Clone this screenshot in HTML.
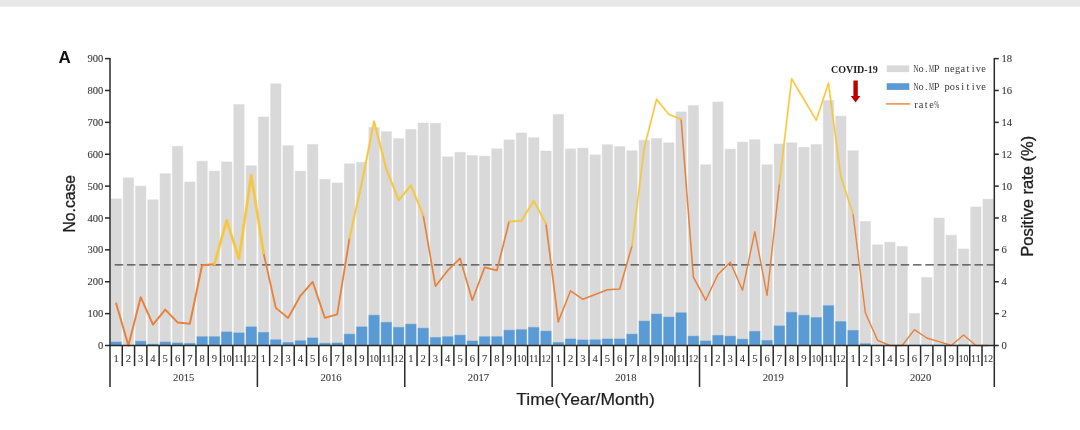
<!DOCTYPE html>
<html><head><meta charset="utf-8"><title>Figure A</title>
<style>
html,body{margin:0;padding:0;background:#fff;}
body{width:1080px;height:430px;position:relative;overflow:hidden;font-family:"Liberation Sans",sans-serif;}
.topbar{position:absolute;left:0;top:0;width:1080px;height:7.5px;background:linear-gradient(#e8e8e8 0,#e8e8e8 6px,#fff 7.5px);}
.ser{font-family:"Liberation Serif",serif;}
.san{font-family:"Liberation Sans",sans-serif;}
.mon{font-family:"Liberation Mono",monospace;}
</style></head><body>
<div class="topbar"></div>
<svg width="1080" height="430" viewBox="0 0 1080 430" style="position:absolute;left:0;top:0">
<defs><filter id="gs" x="0" y="0" width="1080" height="430" filterUnits="userSpaceOnUse"><feOffset dx="0" dy="0"/></filter></defs>
<g>
<g fill="#d9d9d9" stroke="#d9d9d9" stroke-opacity="0.45" stroke-width="1">
<rect x="110.94" y="198.86" width="10.4" height="146.64"/>
<rect x="123.22" y="177.82" width="10.4" height="167.68"/>
<rect x="135.50" y="186.11" width="10.4" height="159.39"/>
<rect x="147.79" y="199.82" width="10.4" height="145.68"/>
<rect x="160.07" y="173.68" width="10.4" height="171.82"/>
<rect x="172.35" y="146.26" width="10.4" height="199.24"/>
<rect x="184.63" y="181.97" width="10.4" height="163.53"/>
<rect x="196.91" y="161.25" width="10.4" height="184.25"/>
<rect x="209.20" y="171.13" width="10.4" height="174.37"/>
<rect x="221.48" y="161.88" width="10.4" height="183.62"/>
<rect x="233.76" y="104.50" width="10.4" height="241.00"/>
<rect x="246.04" y="165.71" width="10.4" height="179.79"/>
<rect x="258.32" y="116.94" width="10.4" height="228.56"/>
<rect x="270.61" y="83.78" width="10.4" height="261.72"/>
<rect x="282.89" y="145.63" width="10.4" height="199.87"/>
<rect x="295.17" y="171.13" width="10.4" height="174.37"/>
<rect x="307.45" y="144.35" width="10.4" height="201.15"/>
<rect x="319.73" y="179.42" width="10.4" height="166.08"/>
<rect x="332.02" y="182.92" width="10.4" height="162.58"/>
<rect x="344.30" y="163.80" width="10.4" height="181.70"/>
<rect x="356.58" y="162.20" width="10.4" height="183.30"/>
<rect x="368.86" y="127.46" width="10.4" height="218.04"/>
<rect x="381.14" y="131.60" width="10.4" height="213.90"/>
<rect x="393.43" y="138.61" width="10.4" height="206.89"/>
<rect x="405.71" y="129.37" width="10.4" height="216.13"/>
<rect x="417.99" y="122.99" width="10.4" height="222.51"/>
<rect x="430.27" y="123.31" width="10.4" height="222.19"/>
<rect x="442.55" y="156.78" width="10.4" height="188.72"/>
<rect x="454.84" y="152.32" width="10.4" height="193.18"/>
<rect x="467.12" y="155.51" width="10.4" height="189.99"/>
<rect x="479.40" y="156.15" width="10.4" height="189.35"/>
<rect x="491.68" y="148.81" width="10.4" height="196.69"/>
<rect x="503.96" y="139.89" width="10.4" height="205.61"/>
<rect x="516.25" y="132.88" width="10.4" height="212.62"/>
<rect x="528.53" y="137.66" width="10.4" height="207.84"/>
<rect x="540.81" y="151.05" width="10.4" height="194.45"/>
<rect x="553.09" y="114.39" width="10.4" height="231.11"/>
<rect x="565.37" y="148.81" width="10.4" height="196.69"/>
<rect x="577.65" y="148.18" width="10.4" height="197.32"/>
<rect x="589.94" y="154.87" width="10.4" height="190.63"/>
<rect x="602.22" y="144.67" width="10.4" height="200.83"/>
<rect x="614.50" y="146.58" width="10.4" height="198.92"/>
<rect x="626.78" y="150.73" width="10.4" height="194.77"/>
<rect x="639.06" y="140.21" width="10.4" height="205.29"/>
<rect x="651.35" y="138.45" width="10.4" height="207.05"/>
<rect x="663.63" y="142.76" width="10.4" height="202.74"/>
<rect x="675.91" y="111.84" width="10.4" height="233.66"/>
<rect x="688.19" y="105.46" width="10.4" height="240.04"/>
<rect x="700.47" y="164.75" width="10.4" height="180.75"/>
<rect x="712.76" y="101.95" width="10.4" height="243.55"/>
<rect x="725.04" y="149.13" width="10.4" height="196.37"/>
<rect x="737.32" y="142.12" width="10.4" height="203.38"/>
<rect x="749.60" y="139.73" width="10.4" height="205.77"/>
<rect x="761.88" y="164.75" width="10.4" height="180.75"/>
<rect x="774.17" y="144.03" width="10.4" height="201.47"/>
<rect x="786.45" y="142.76" width="10.4" height="202.74"/>
<rect x="798.73" y="147.22" width="10.4" height="198.28"/>
<rect x="811.01" y="144.51" width="10.4" height="200.99"/>
<rect x="823.29" y="100.49" width="10.4" height="245.01"/>
<rect x="835.58" y="116.11" width="10.4" height="229.39"/>
<rect x="847.86" y="150.73" width="10.4" height="194.77"/>
<rect x="860.14" y="221.50" width="10.4" height="124.00"/>
<rect x="872.42" y="244.77" width="10.4" height="100.73"/>
<rect x="884.70" y="242.22" width="10.4" height="103.28"/>
<rect x="896.99" y="246.36" width="10.4" height="99.14"/>
<rect x="909.27" y="313.46" width="10.4" height="32.04"/>
<rect x="921.55" y="277.44" width="10.4" height="68.06"/>
<rect x="933.83" y="217.99" width="10.4" height="127.51"/>
<rect x="946.11" y="235.20" width="10.4" height="110.30"/>
<rect x="958.40" y="248.91" width="10.4" height="96.59"/>
<rect x="970.68" y="206.99" width="10.4" height="138.51"/>
<rect x="982.96" y="199.18" width="10.4" height="146.32"/>
</g>
<g fill="#5b9bd5" stroke="#5b9bd5" stroke-opacity="0.45" stroke-width="1">
<rect x="110.94" y="341.99" width="10.4" height="3.51"/>
<rect x="135.50" y="341.23" width="10.4" height="4.27"/>
<rect x="147.79" y="344.22" width="10.4" height="1.28"/>
<rect x="160.07" y="341.99" width="10.4" height="3.51"/>
<rect x="172.35" y="342.95" width="10.4" height="2.55"/>
<rect x="184.63" y="343.43" width="10.4" height="2.07"/>
<rect x="196.91" y="336.70" width="10.4" height="8.80"/>
<rect x="209.20" y="336.70" width="10.4" height="8.80"/>
<rect x="221.48" y="331.92" width="10.4" height="13.58"/>
<rect x="233.76" y="332.91" width="10.4" height="12.59"/>
<rect x="246.04" y="326.88" width="10.4" height="18.62"/>
<rect x="258.32" y="332.43" width="10.4" height="13.07"/>
<rect x="270.61" y="339.76" width="10.4" height="5.74"/>
<rect x="282.89" y="342.47" width="10.4" height="3.03"/>
<rect x="295.17" y="340.72" width="10.4" height="4.78"/>
<rect x="307.45" y="337.94" width="10.4" height="7.56"/>
<rect x="319.73" y="343.27" width="10.4" height="2.23"/>
<rect x="332.02" y="342.95" width="10.4" height="2.55"/>
<rect x="344.30" y="334.18" width="10.4" height="11.32"/>
<rect x="356.58" y="326.88" width="10.4" height="18.62"/>
<rect x="368.86" y="315.22" width="10.4" height="30.28"/>
<rect x="381.14" y="322.36" width="10.4" height="23.14"/>
<rect x="393.43" y="327.39" width="10.4" height="18.11"/>
<rect x="405.71" y="324.14" width="10.4" height="21.36"/>
<rect x="417.99" y="328.16" width="10.4" height="17.34"/>
<rect x="430.27" y="337.47" width="10.4" height="8.03"/>
<rect x="442.55" y="336.70" width="10.4" height="8.80"/>
<rect x="454.84" y="335.20" width="10.4" height="10.30"/>
<rect x="467.12" y="340.97" width="10.4" height="4.53"/>
<rect x="479.40" y="336.70" width="10.4" height="8.80"/>
<rect x="491.68" y="336.70" width="10.4" height="8.80"/>
<rect x="503.96" y="330.20" width="10.4" height="15.30"/>
<rect x="516.25" y="329.66" width="10.4" height="15.84"/>
<rect x="528.53" y="327.39" width="10.4" height="18.11"/>
<rect x="540.81" y="331.15" width="10.4" height="14.35"/>
<rect x="553.09" y="342.47" width="10.4" height="3.03"/>
<rect x="565.37" y="338.97" width="10.4" height="6.53"/>
<rect x="577.65" y="339.95" width="10.4" height="5.55"/>
<rect x="589.94" y="339.76" width="10.4" height="5.74"/>
<rect x="602.22" y="338.97" width="10.4" height="6.53"/>
<rect x="614.50" y="338.97" width="10.4" height="6.53"/>
<rect x="626.78" y="334.18" width="10.4" height="11.32"/>
<rect x="639.06" y="321.11" width="10.4" height="24.39"/>
<rect x="651.35" y="314.07" width="10.4" height="31.43"/>
<rect x="663.63" y="317.07" width="10.4" height="28.43"/>
<rect x="675.91" y="312.79" width="10.4" height="32.71"/>
<rect x="688.19" y="336.19" width="10.4" height="9.31"/>
<rect x="700.47" y="340.97" width="10.4" height="4.53"/>
<rect x="712.76" y="335.43" width="10.4" height="10.07"/>
<rect x="725.04" y="336.19" width="10.4" height="9.31"/>
<rect x="737.32" y="339.22" width="10.4" height="6.28"/>
<rect x="749.60" y="331.41" width="10.4" height="14.09"/>
<rect x="761.88" y="340.46" width="10.4" height="5.04"/>
<rect x="774.17" y="325.90" width="10.4" height="19.60"/>
<rect x="786.45" y="312.35" width="10.4" height="33.15"/>
<rect x="798.73" y="315.31" width="10.4" height="30.19"/>
<rect x="811.01" y="317.58" width="10.4" height="27.92"/>
<rect x="823.29" y="305.65" width="10.4" height="39.85"/>
<rect x="835.58" y="321.59" width="10.4" height="23.91"/>
<rect x="847.86" y="330.42" width="10.4" height="15.08"/>
<rect x="860.14" y="343.75" width="10.4" height="1.75"/>
<rect x="872.42" y="345.18" width="10.4" height="0.32"/>
<rect x="909.27" y="345.18" width="10.4" height="0.32"/>
<rect x="921.55" y="345.18" width="10.4" height="0.32"/>
<rect x="933.83" y="345.18" width="10.4" height="0.32"/>
<rect x="958.40" y="344.86" width="10.4" height="0.64"/>
</g>
</g>
<line x1="114.7" y1="264.9" x2="994.3" y2="264.9" stroke="#454545" stroke-width="1.4" stroke-dasharray="8.5 3.782"/>
<g fill="none" stroke="#e8823a" stroke-linejoin="round" stroke-linecap="round">
<polyline points="116.14,303.58 128.42,345.50 140.70,297.21 152.99,324.62 165.27,309.64 177.55,322.39 189.83,323.82 202.11,265.17 214.40,264.21" stroke-width="2.0"/>
<polyline points="263.52,253.05 275.81,307.88 288.09,317.93 300.37,295.77 312.65,281.90 324.93,317.93 337.22,314.42 349.50,238.39" stroke-width="1.85"/>
<polyline points="423.19,215.12 435.47,286.21 447.75,270.43 460.04,258.31 472.32,300.23 484.60,267.40 496.88,270.43 509.16,221.50" stroke-width="1.7"/>
<polyline points="546.01,223.89 558.29,321.59" stroke-width="1.7"/>
<polyline points="558.29,321.59 570.57,290.83 582.85,299.28 595.14,294.50 607.42,289.71 619.70,288.92 631.98,245.88" stroke-width="1.55"/>
<polyline points="681.11,119.17 693.39,277.12 705.67,300.23" stroke-width="1.55"/>
<polyline points="705.67,300.23 717.96,274.41 730.24,262.14 742.52,290.19 754.80,231.70 767.08,295.29 779.37,183.88" stroke-width="1.45"/>
<polyline points="853.06,214.00 865.34,312.83 877.62,340.40 889.90,345.50 902.19,345.50 914.47,329.56 926.75,338.01 939.03,341.67 951.31,345.50 963.60,334.98 975.88,345.50 988.16,345.50" stroke-width="1.4"/>
</g>
<polyline points="214.40,264.21 226.68,220.38 238.96,258.79 251.24,175.27 263.52,253.05" fill="none" stroke="#f7c63a" stroke-opacity="0.35" stroke-width="3.3" stroke-linejoin="round" stroke-linecap="round"/>
<polyline points="214.40,264.21 226.68,220.38 238.96,258.79 251.24,175.27 263.52,253.05" fill="none" stroke="#f7c63a" stroke-width="2.25" stroke-linejoin="round" stroke-linecap="round"/>
<polyline points="349.50,238.39 361.78,182.92 374.06,121.40 386.34,169.06 398.63,200.14 410.91,185.47 423.19,215.12" fill="none" stroke="#f7c63a" stroke-opacity="0.35" stroke-width="2.7" stroke-linejoin="round" stroke-linecap="round"/>
<polyline points="349.50,238.39 361.78,182.92 374.06,121.40 386.34,169.06 398.63,200.14 410.91,185.47 423.19,215.12" fill="none" stroke="#f7c63a" stroke-width="1.65" stroke-linejoin="round" stroke-linecap="round"/>
<polyline points="509.16,221.50 521.45,220.70 533.73,200.77 546.01,223.89" fill="none" stroke="#f7c63a" stroke-opacity="0.35" stroke-width="2.5" stroke-linejoin="round" stroke-linecap="round"/>
<polyline points="509.16,221.50 521.45,220.70 533.73,200.77 546.01,223.89" fill="none" stroke="#f7c63a" stroke-width="1.45" stroke-linejoin="round" stroke-linecap="round"/>
<polyline points="631.98,245.88 644.26,147.86 656.55,99.24 668.83,114.39 681.11,119.17" fill="none" stroke="#f7c63a" stroke-opacity="0.35" stroke-width="2.3" stroke-linejoin="round" stroke-linecap="round"/>
<polyline points="631.98,245.88 644.26,147.86 656.55,99.24 668.83,114.39 681.11,119.17" fill="none" stroke="#f7c63a" stroke-width="1.25" stroke-linejoin="round" stroke-linecap="round"/>
<polyline points="779.37,183.88 791.65,78.84 803.93,99.40 816.21,120.28 828.49,83.15 840.78,176.55 853.06,214.00" fill="none" stroke="#f7c63a" stroke-opacity="0.35" stroke-width="2.3" stroke-linejoin="round" stroke-linecap="round"/>
<polyline points="779.37,183.88 791.65,78.84 803.93,99.40 816.21,120.28 828.49,83.15 840.78,176.55 853.06,214.00" fill="none" stroke="#f7c63a" stroke-width="1.25" stroke-linejoin="round" stroke-linecap="round"/>
<g stroke="#2a2a2a" stroke-width="1.5" fill="none">
<line x1="110.0" y1="58.0" x2="110.0" y2="387"/>
<line x1="994.3" y1="58.0" x2="994.3" y2="387"/>
<line x1="109.4" y1="345.5" x2="994.9" y2="345.5"/>
<line x1="105.0" y1="345.50" x2="110.0" y2="345.50"/>
<line x1="994.3" y1="345.50" x2="998.8" y2="345.50"/>
<line x1="105.0" y1="313.62" x2="110.0" y2="313.62"/>
<line x1="994.3" y1="313.62" x2="998.8" y2="313.62"/>
<line x1="105.0" y1="281.74" x2="110.0" y2="281.74"/>
<line x1="994.3" y1="281.74" x2="998.8" y2="281.74"/>
<line x1="105.0" y1="249.87" x2="110.0" y2="249.87"/>
<line x1="994.3" y1="249.87" x2="998.8" y2="249.87"/>
<line x1="105.0" y1="217.99" x2="110.0" y2="217.99"/>
<line x1="994.3" y1="217.99" x2="998.8" y2="217.99"/>
<line x1="105.0" y1="186.11" x2="110.0" y2="186.11"/>
<line x1="994.3" y1="186.11" x2="998.8" y2="186.11"/>
<line x1="105.0" y1="154.23" x2="110.0" y2="154.23"/>
<line x1="994.3" y1="154.23" x2="998.8" y2="154.23"/>
<line x1="105.0" y1="122.36" x2="110.0" y2="122.36"/>
<line x1="994.3" y1="122.36" x2="998.8" y2="122.36"/>
<line x1="105.0" y1="90.48" x2="110.0" y2="90.48"/>
<line x1="994.3" y1="90.48" x2="998.8" y2="90.48"/>
<line x1="105.0" y1="58.60" x2="110.0" y2="58.60"/>
<line x1="994.3" y1="58.60" x2="998.8" y2="58.60"/>
<line x1="122.28" y1="345.5" x2="122.28" y2="366"/>
<line x1="134.56" y1="345.5" x2="134.56" y2="366"/>
<line x1="146.85" y1="345.5" x2="146.85" y2="366"/>
<line x1="159.13" y1="345.5" x2="159.13" y2="366"/>
<line x1="171.41" y1="345.5" x2="171.41" y2="366"/>
<line x1="183.69" y1="345.5" x2="183.69" y2="366"/>
<line x1="195.97" y1="345.5" x2="195.97" y2="366"/>
<line x1="208.26" y1="345.5" x2="208.26" y2="366"/>
<line x1="220.54" y1="345.5" x2="220.54" y2="366"/>
<line x1="232.82" y1="345.5" x2="232.82" y2="366"/>
<line x1="245.10" y1="345.5" x2="245.10" y2="366"/>
<line x1="257.38" y1="345.5" x2="257.38" y2="387"/>
<line x1="269.67" y1="345.5" x2="269.67" y2="366"/>
<line x1="281.95" y1="345.5" x2="281.95" y2="366"/>
<line x1="294.23" y1="345.5" x2="294.23" y2="366"/>
<line x1="306.51" y1="345.5" x2="306.51" y2="366"/>
<line x1="318.79" y1="345.5" x2="318.79" y2="366"/>
<line x1="331.07" y1="345.5" x2="331.07" y2="366"/>
<line x1="343.36" y1="345.5" x2="343.36" y2="366"/>
<line x1="355.64" y1="345.5" x2="355.64" y2="366"/>
<line x1="367.92" y1="345.5" x2="367.92" y2="366"/>
<line x1="380.20" y1="345.5" x2="380.20" y2="366"/>
<line x1="392.48" y1="345.5" x2="392.48" y2="366"/>
<line x1="404.77" y1="345.5" x2="404.77" y2="387"/>
<line x1="417.05" y1="345.5" x2="417.05" y2="366"/>
<line x1="429.33" y1="345.5" x2="429.33" y2="366"/>
<line x1="441.61" y1="345.5" x2="441.61" y2="366"/>
<line x1="453.89" y1="345.5" x2="453.89" y2="366"/>
<line x1="466.18" y1="345.5" x2="466.18" y2="366"/>
<line x1="478.46" y1="345.5" x2="478.46" y2="366"/>
<line x1="490.74" y1="345.5" x2="490.74" y2="366"/>
<line x1="503.02" y1="345.5" x2="503.02" y2="366"/>
<line x1="515.30" y1="345.5" x2="515.30" y2="366"/>
<line x1="527.59" y1="345.5" x2="527.59" y2="366"/>
<line x1="539.87" y1="345.5" x2="539.87" y2="366"/>
<line x1="552.15" y1="345.5" x2="552.15" y2="387"/>
<line x1="564.43" y1="345.5" x2="564.43" y2="366"/>
<line x1="576.71" y1="345.5" x2="576.71" y2="366"/>
<line x1="589.00" y1="345.5" x2="589.00" y2="366"/>
<line x1="601.28" y1="345.5" x2="601.28" y2="366"/>
<line x1="613.56" y1="345.5" x2="613.56" y2="366"/>
<line x1="625.84" y1="345.5" x2="625.84" y2="366"/>
<line x1="638.12" y1="345.5" x2="638.12" y2="366"/>
<line x1="650.41" y1="345.5" x2="650.41" y2="366"/>
<line x1="662.69" y1="345.5" x2="662.69" y2="366"/>
<line x1="674.97" y1="345.5" x2="674.97" y2="366"/>
<line x1="687.25" y1="345.5" x2="687.25" y2="366"/>
<line x1="699.53" y1="345.5" x2="699.53" y2="387"/>
<line x1="711.82" y1="345.5" x2="711.82" y2="366"/>
<line x1="724.10" y1="345.5" x2="724.10" y2="366"/>
<line x1="736.38" y1="345.5" x2="736.38" y2="366"/>
<line x1="748.66" y1="345.5" x2="748.66" y2="366"/>
<line x1="760.94" y1="345.5" x2="760.94" y2="366"/>
<line x1="773.22" y1="345.5" x2="773.22" y2="366"/>
<line x1="785.51" y1="345.5" x2="785.51" y2="366"/>
<line x1="797.79" y1="345.5" x2="797.79" y2="366"/>
<line x1="810.07" y1="345.5" x2="810.07" y2="366"/>
<line x1="822.35" y1="345.5" x2="822.35" y2="366"/>
<line x1="834.63" y1="345.5" x2="834.63" y2="366"/>
<line x1="846.92" y1="345.5" x2="846.92" y2="387"/>
<line x1="859.20" y1="345.5" x2="859.20" y2="366"/>
<line x1="871.48" y1="345.5" x2="871.48" y2="366"/>
<line x1="883.76" y1="345.5" x2="883.76" y2="366"/>
<line x1="896.04" y1="345.5" x2="896.04" y2="366"/>
<line x1="908.33" y1="345.5" x2="908.33" y2="366"/>
<line x1="920.61" y1="345.5" x2="920.61" y2="366"/>
<line x1="932.89" y1="345.5" x2="932.89" y2="366"/>
<line x1="945.17" y1="345.5" x2="945.17" y2="366"/>
<line x1="957.45" y1="345.5" x2="957.45" y2="366"/>
<line x1="969.74" y1="345.5" x2="969.74" y2="366"/>
<line x1="982.02" y1="345.5" x2="982.02" y2="366"/>
</g>
<g filter="url(#gs)">
<g class="ser" font-size="10.6" fill="#3a3a3a" stroke="#3a3a3a" stroke-width="0.1">
<text x="103.4" y="349.10" text-anchor="end">0</text>
<text x="1001.5" y="349.10">0</text>
<text x="103.4" y="317.22" text-anchor="end">100</text>
<text x="1001.5" y="317.22">2</text>
<text x="103.4" y="285.34" text-anchor="end">200</text>
<text x="1001.5" y="285.34">4</text>
<text x="103.4" y="253.47" text-anchor="end">300</text>
<text x="1001.5" y="253.47">6</text>
<text x="103.4" y="221.59" text-anchor="end">400</text>
<text x="1001.5" y="221.59">8</text>
<text x="103.4" y="189.71" text-anchor="end">500</text>
<text x="1001.5" y="189.71">10</text>
<text x="103.4" y="157.83" text-anchor="end">600</text>
<text x="1001.5" y="157.83">12</text>
<text x="103.4" y="125.96" text-anchor="end">700</text>
<text x="1001.5" y="125.96">14</text>
<text x="103.4" y="94.08" text-anchor="end">800</text>
<text x="1001.5" y="94.08">16</text>
<text x="103.4" y="62.20" text-anchor="end">900</text>
<text x="1001.5" y="62.20">18</text>
<text x="116.14" y="362.4" text-anchor="middle">1</text>
<text x="128.42" y="362.4" text-anchor="middle">2</text>
<text x="140.70" y="362.4" text-anchor="middle">3</text>
<text x="152.99" y="362.4" text-anchor="middle">4</text>
<text x="165.27" y="362.4" text-anchor="middle">5</text>
<text x="177.55" y="362.4" text-anchor="middle">6</text>
<text x="189.83" y="362.4" text-anchor="middle">7</text>
<text x="202.11" y="362.4" text-anchor="middle">8</text>
<text x="214.40" y="362.4" text-anchor="middle">9</text>
<text x="226.68" y="362.4" text-anchor="middle" textLength="9.6" lengthAdjust="spacingAndGlyphs">10</text>
<text x="238.96" y="362.4" text-anchor="middle" textLength="9.6" lengthAdjust="spacingAndGlyphs">11</text>
<text x="251.24" y="362.4" text-anchor="middle" textLength="9.6" lengthAdjust="spacingAndGlyphs">12</text>
<text x="263.52" y="362.4" text-anchor="middle">1</text>
<text x="275.81" y="362.4" text-anchor="middle">2</text>
<text x="288.09" y="362.4" text-anchor="middle">3</text>
<text x="300.37" y="362.4" text-anchor="middle">4</text>
<text x="312.65" y="362.4" text-anchor="middle">5</text>
<text x="324.93" y="362.4" text-anchor="middle">6</text>
<text x="337.22" y="362.4" text-anchor="middle">7</text>
<text x="349.50" y="362.4" text-anchor="middle">8</text>
<text x="361.78" y="362.4" text-anchor="middle">9</text>
<text x="374.06" y="362.4" text-anchor="middle" textLength="9.6" lengthAdjust="spacingAndGlyphs">10</text>
<text x="386.34" y="362.4" text-anchor="middle" textLength="9.6" lengthAdjust="spacingAndGlyphs">11</text>
<text x="398.63" y="362.4" text-anchor="middle" textLength="9.6" lengthAdjust="spacingAndGlyphs">12</text>
<text x="410.91" y="362.4" text-anchor="middle">1</text>
<text x="423.19" y="362.4" text-anchor="middle">2</text>
<text x="435.47" y="362.4" text-anchor="middle">3</text>
<text x="447.75" y="362.4" text-anchor="middle">4</text>
<text x="460.04" y="362.4" text-anchor="middle">5</text>
<text x="472.32" y="362.4" text-anchor="middle">6</text>
<text x="484.60" y="362.4" text-anchor="middle">7</text>
<text x="496.88" y="362.4" text-anchor="middle">8</text>
<text x="509.16" y="362.4" text-anchor="middle">9</text>
<text x="521.45" y="362.4" text-anchor="middle" textLength="9.6" lengthAdjust="spacingAndGlyphs">10</text>
<text x="533.73" y="362.4" text-anchor="middle" textLength="9.6" lengthAdjust="spacingAndGlyphs">11</text>
<text x="546.01" y="362.4" text-anchor="middle" textLength="9.6" lengthAdjust="spacingAndGlyphs">12</text>
<text x="558.29" y="362.4" text-anchor="middle">1</text>
<text x="570.57" y="362.4" text-anchor="middle">2</text>
<text x="582.85" y="362.4" text-anchor="middle">3</text>
<text x="595.14" y="362.4" text-anchor="middle">4</text>
<text x="607.42" y="362.4" text-anchor="middle">5</text>
<text x="619.70" y="362.4" text-anchor="middle">6</text>
<text x="631.98" y="362.4" text-anchor="middle">7</text>
<text x="644.26" y="362.4" text-anchor="middle">8</text>
<text x="656.55" y="362.4" text-anchor="middle">9</text>
<text x="668.83" y="362.4" text-anchor="middle" textLength="9.6" lengthAdjust="spacingAndGlyphs">10</text>
<text x="681.11" y="362.4" text-anchor="middle" textLength="9.6" lengthAdjust="spacingAndGlyphs">11</text>
<text x="693.39" y="362.4" text-anchor="middle" textLength="9.6" lengthAdjust="spacingAndGlyphs">12</text>
<text x="705.67" y="362.4" text-anchor="middle">1</text>
<text x="717.96" y="362.4" text-anchor="middle">2</text>
<text x="730.24" y="362.4" text-anchor="middle">3</text>
<text x="742.52" y="362.4" text-anchor="middle">4</text>
<text x="754.80" y="362.4" text-anchor="middle">5</text>
<text x="767.08" y="362.4" text-anchor="middle">6</text>
<text x="779.37" y="362.4" text-anchor="middle">7</text>
<text x="791.65" y="362.4" text-anchor="middle">8</text>
<text x="803.93" y="362.4" text-anchor="middle">9</text>
<text x="816.21" y="362.4" text-anchor="middle" textLength="9.6" lengthAdjust="spacingAndGlyphs">10</text>
<text x="828.49" y="362.4" text-anchor="middle" textLength="9.6" lengthAdjust="spacingAndGlyphs">11</text>
<text x="840.78" y="362.4" text-anchor="middle" textLength="9.6" lengthAdjust="spacingAndGlyphs">12</text>
<text x="853.06" y="362.4" text-anchor="middle">1</text>
<text x="865.34" y="362.4" text-anchor="middle">2</text>
<text x="877.62" y="362.4" text-anchor="middle">3</text>
<text x="889.90" y="362.4" text-anchor="middle">4</text>
<text x="902.19" y="362.4" text-anchor="middle">5</text>
<text x="914.47" y="362.4" text-anchor="middle">6</text>
<text x="926.75" y="362.4" text-anchor="middle">7</text>
<text x="939.03" y="362.4" text-anchor="middle">8</text>
<text x="951.31" y="362.4" text-anchor="middle">9</text>
<text x="963.60" y="362.4" text-anchor="middle" textLength="9.6" lengthAdjust="spacingAndGlyphs">10</text>
<text x="975.88" y="362.4" text-anchor="middle" textLength="9.6" lengthAdjust="spacingAndGlyphs">11</text>
<text x="988.16" y="362.4" text-anchor="middle" textLength="9.6" lengthAdjust="spacingAndGlyphs">12</text>
<text x="183.69" y="381.4" text-anchor="middle">2015</text>
<text x="331.07" y="381.4" text-anchor="middle">2016</text>
<text x="478.46" y="381.4" text-anchor="middle">2017</text>
<text x="625.84" y="381.4" text-anchor="middle">2018</text>
<text x="773.22" y="381.4" text-anchor="middle">2019</text>
<text x="920.61" y="381.4" text-anchor="middle">2020</text>
</g>
<g class="san" fill="#1e1e1e">
<text x="58.4" y="63.1" font-size="17" font-weight="bold" fill="#111">A</text>
<text transform="translate(74.8,203.7) rotate(-90)" font-size="15.8" text-anchor="middle" textLength="57.6" stroke="#1e1e1e" stroke-width="0.3" lengthAdjust="spacingAndGlyphs">No.case</text>
<text transform="translate(1033,196.3) rotate(-90)" font-size="15.6" text-anchor="middle" textLength="121" stroke="#1e1e1e" stroke-width="0.3" lengthAdjust="spacingAndGlyphs">Positive rate (%)</text>
<text x="585.5" y="405.2" font-size="15.6" text-anchor="middle" textLength="138.5" stroke="#1e1e1e" stroke-width="0.2" lengthAdjust="spacingAndGlyphs">Time(Year/Month)</text>
</g>
<text x="831" y="73.3" class="ser" font-weight="bold" font-size="10" fill="#222">COVID-19</text>
<path d="M853.4 80.6 H857.8 V96 H860.4 L855.6 102.4 L850.8 96 H853.4 Z" fill="#c00000"/>
<rect x="886.7" y="65.4" width="22.6" height="6.7" fill="#d9d9d9"/>
<rect x="886.7" y="83.2" width="22.6" height="6.7" fill="#5b9bd5"/>
<line x1="886" y1="103.9" x2="910" y2="103.9" stroke="#e8823a" stroke-width="1.4"/>
<g class="ser" font-size="10.4" fill="#3a3a3a" text-anchor="middle">
<text x="915.90" y="72.1" textLength="5.0" lengthAdjust="spacingAndGlyphs">N</text>
<text x="921.12" y="72.1">o</text>
<text x="926.32" y="72.1">.</text>
<text x="931.53" y="72.1" textLength="5.0" lengthAdjust="spacingAndGlyphs">M</text>
<text x="936.75" y="72.1">P</text>
<text x="947.16" y="72.1">n</text>
<text x="952.38" y="72.1">e</text>
<text x="957.58" y="72.1">g</text>
<text x="962.79" y="72.1">a</text>
<text x="968.00" y="72.1">t</text>
<text x="973.21" y="72.1">i</text>
<text x="978.42" y="72.1">v</text>
<text x="983.63" y="72.1">e</text>
<text x="915.90" y="89.9" textLength="5.0" lengthAdjust="spacingAndGlyphs">N</text>
<text x="921.12" y="89.9">o</text>
<text x="926.32" y="89.9">.</text>
<text x="931.53" y="89.9" textLength="5.0" lengthAdjust="spacingAndGlyphs">M</text>
<text x="936.75" y="89.9">P</text>
<text x="947.16" y="89.9">p</text>
<text x="952.38" y="89.9">o</text>
<text x="957.58" y="89.9">s</text>
<text x="962.79" y="89.9">i</text>
<text x="968.00" y="89.9">t</text>
<text x="973.21" y="89.9">i</text>
<text x="978.42" y="89.9">v</text>
<text x="983.63" y="89.9">e</text>
<text x="915.90" y="107.7">r</text>
<text x="921.12" y="107.7">a</text>
<text x="926.32" y="107.7">t</text>
<text x="931.53" y="107.7">e</text>
<text x="936.75" y="107.7" textLength="5.0" lengthAdjust="spacingAndGlyphs">%</text>
</g>
</g>
</svg>
</body></html>
